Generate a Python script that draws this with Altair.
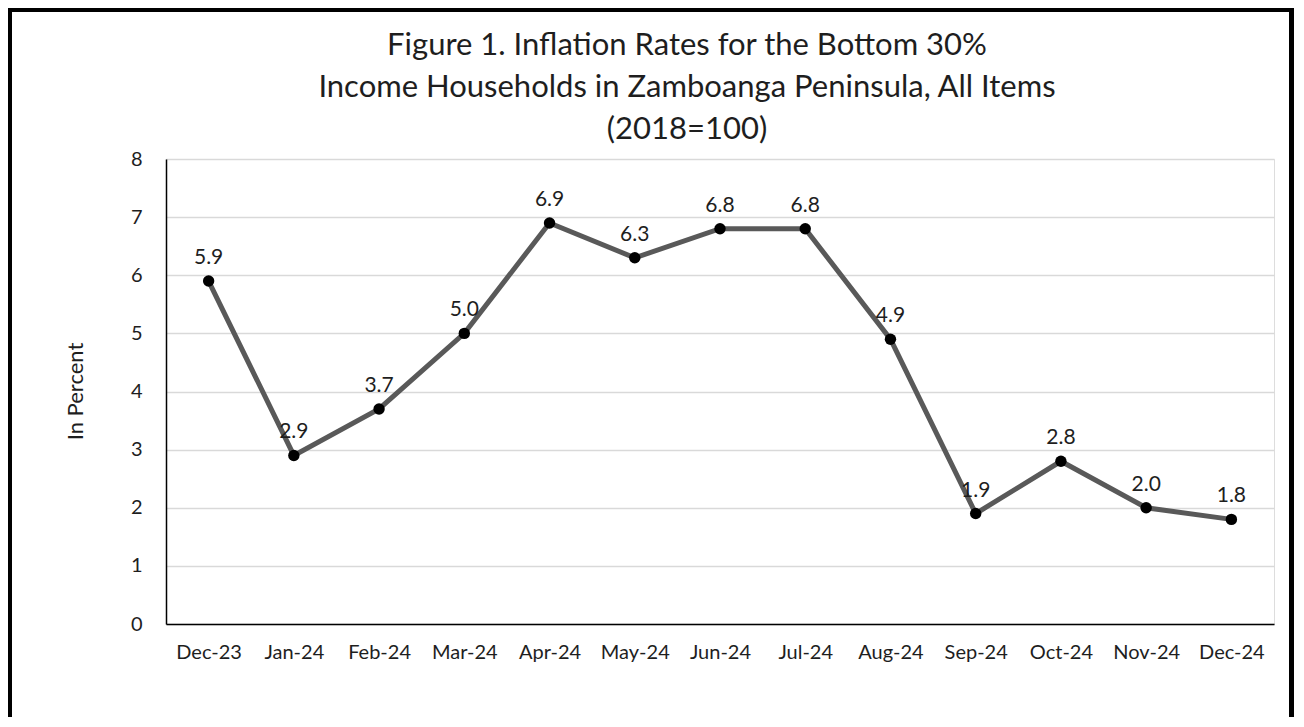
import altair as alt
import pandas as pd

months = ["Dec-23", "Jan-24", "Feb-24", "Mar-24", "Apr-24", "May-24", "Jun-24",
          "Jul-24", "Aug-24", "Sep-24", "Oct-24", "Nov-24", "Dec-24"]
rates = [5.9, 2.9, 3.7, 5.0, 6.9, 6.3, 6.8, 6.8, 4.9, 1.9, 2.8, 2.0, 1.8]
y_ticks = [0, 1, 2, 3, 4, 5, 6, 7, 8]
title_lines = ["Figure 1. Inflation Rates for the Bottom 30%",
               "Income Households in Zamboanga Peninsula, All Items",
               "(2018=100)"]

df = pd.DataFrame({"month": months, "rate": rates})
df["label"] = [f"{v:.1f}" for v in rates]

FONT = "Lato"
TXT = "#1e1e1e"

x = alt.X("month:N", sort=months, title=None,
          axis=alt.Axis(labelAngle=0, labelFontSize=20, labelPadding=18, labelColor=TXT,
                        labelFont=FONT, ticks=False, domainColor="black", domainWidth=1.5,
                        grid=False))
y = alt.Y("rate:Q", scale=alt.Scale(domain=[0, 8], nice=False),
          axis=alt.Axis(values=y_ticks, title="In Percent", titleFontSize=22,
                        titleFontWeight="normal", titleFont=FONT, titleColor=TXT,
                        titleX=-91, titleY=232, titleAngle=-90, titleBaseline="middle",
                        labelFontSize=20, labelPadding=24, labelColor=TXT, labelFont=FONT,
                        ticks=False, domainColor="black", domainWidth=1.5,
                        gridColor="#d9d9d9", gridWidth=1.5, format="d"))

base = alt.Chart(df)
line = base.mark_line(color="#595959", strokeWidth=5).encode(x=x, y=y)
pts = base.mark_point(filled=True, color="black", size=130, opacity=1).encode(x=x, y=y)
labels = base.mark_text(fontSize=21, font=FONT, color=TXT, dy=-23, baseline="middle").encode(
    x=x, y=y, text="label:N")

one = alt.Chart(pd.DataFrame({"k": [0]}))

title_layers = []
for i, t in enumerate(title_lines):
    title_layers.append(one.mark_text(fontSize=31, font=FONT, color=TXT, align="center",
                                      baseline="alphabetic").encode(
        x=alt.value(521), y=alt.value(-104 + 42 * i), text=alt.value(t)))

bw = 5
left_b = one.mark_rule(color="black", strokeWidth=bw).encode(
    x=alt.value(-156.5), x2=alt.value(-156.5), y=alt.value(-152), y2=alt.value(560))
top_b = one.mark_rule(color="black", strokeWidth=bw).encode(
    x=alt.value(-159), x2=alt.value(1128), y=alt.value(-149.5), y2=alt.value(-149.5))
right_b = one.mark_rule(color="black", strokeWidth=bw).encode(
    x=alt.value(1125.5), x2=alt.value(1125.5), y=alt.value(-152), y2=alt.value(560))

chart = alt.layer(line, pts, labels, *title_layers, left_b, top_b, right_b).properties(
    width=1108, height=465,
    autosize=alt.AutoSizeParams(type="none"),
    padding={"left": 158, "top": 151, "right": 20, "bottom": 93},
).configure_view(stroke="black", strokeWidth=1.5).configure(background="white")

chart.save("out.html", embed_options={"renderer": "svg", "actions": False})
